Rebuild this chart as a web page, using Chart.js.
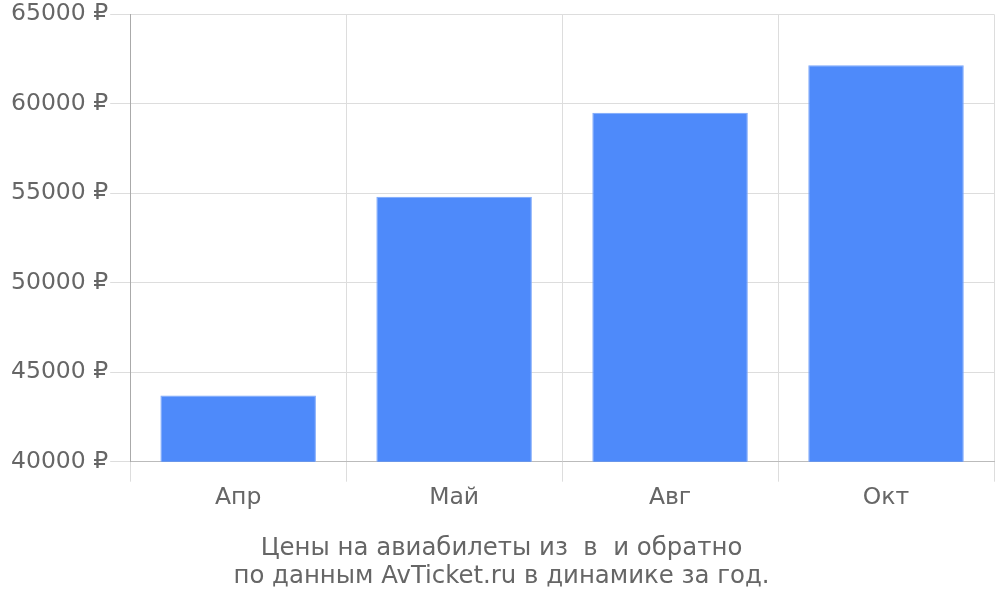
<!DOCTYPE html>
<html>
<head>
<meta charset="utf-8">
<script src="https://cdn.jsdelivr.net/npm/chart.js@4"></script>
<style>
  html, body { margin: 0; padding: 0; background: #fff; }
  #wrap { width: 1000px; height: 600px; }
</style>
</head>
<body>
<div id="wrap"><canvas id="priceChart"></canvas></div>
<script>
  // data
  const months = ["Апр", "Май", "Авг", "Окт"];
  const prices = [43700, 54800, 59500, 62150];
  const titleLines = [
    "Цены на авиабилеты из  в  и обратно",
    "по данным AvTicket.ru в динамике за год.",
  ];

  Chart.defaults.font.family = "'DejaVu Sans', sans-serif";
  Chart.defaults.font.size = 23.5;
  Chart.defaults.color = "#666";

  const ctx = document.getElementById("priceChart").getContext("2d");
  new Chart(ctx, {
    type: "bar",
    data: {
      labels: months,
      datasets: [
        {
          data: prices,
          backgroundColor: "#4e8afa",
          borderColor: "#7aa6fb",
          borderWidth: 1,
          barPercentage: 0.72,
          categoryPercentage: 1,
        },
      ],
    },
    options: {
      responsive: true,
      maintainAspectRatio: false,
      animation: false,
      layout: { padding: { top: 0, left: 9, right: 6, bottom: 9 } },
      plugins: {
        legend: { display: false },
        tooltip: { enabled: false },
        title: {
          display: true,
          position: "bottom",
          text: titleLines,
          color: "#666",
          font: { size: 24.4, weight: "normal", lineHeight: 1.15 },
          padding: { top: 21, bottom: 0 },
        },
      },
      scales: {
        x: {
          grid: { color: "#ddd", tickLength: 20, offset: true },
          border: { color: "#bbb", width: 1 },
          ticks: { padding: 2 },
        },
        y: {
          min: 40000,
          max: 65000,
          grid: { color: "#ddd", tickLength: 20 },
          border: { color: "#aaa", width: 1 },
          ticks: {
            stepSize: 5000,
            padding: 2,
            font: { lineHeight: 1.05 },
            callback: (v) => v + " ₽",
          },
        },
      },
    },
  });
</script>
</body>
</html>
